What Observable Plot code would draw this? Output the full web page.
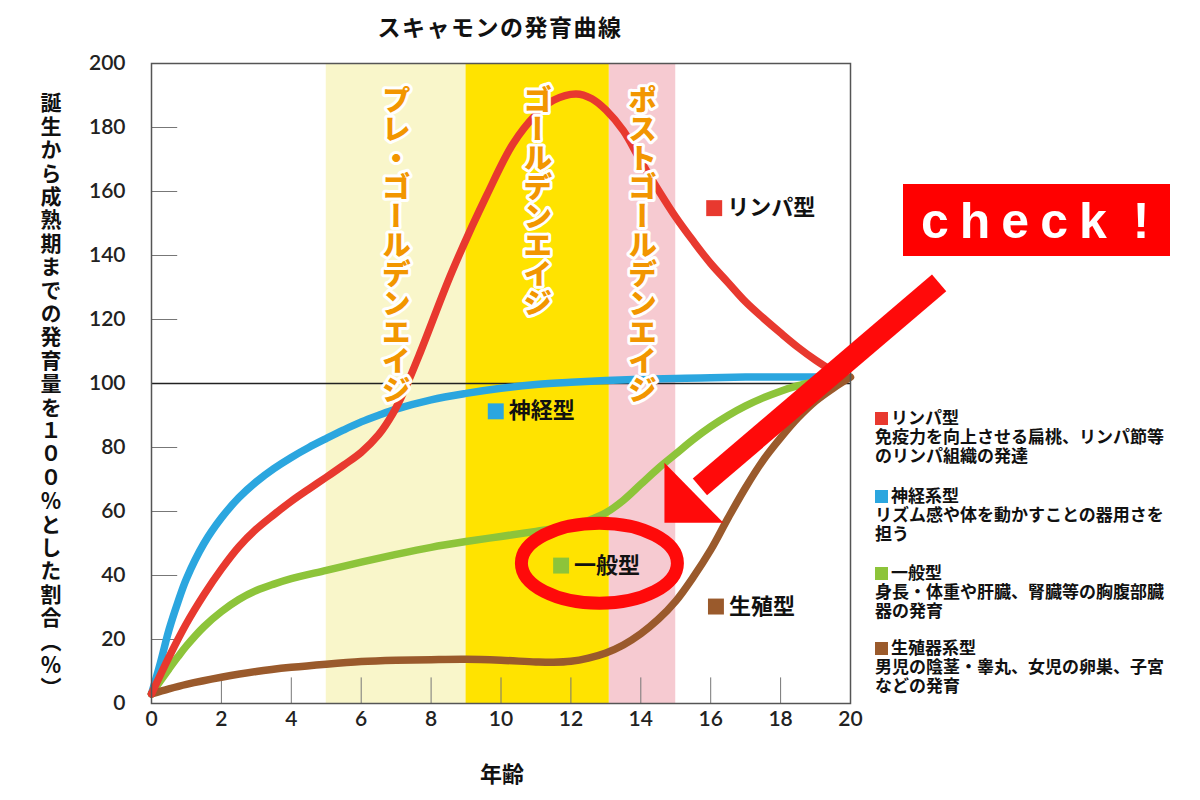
<!DOCTYPE html>
<html><head><meta charset="utf-8">
<script src="https://cdn.jsdelivr.net/npm/d3@7"></script>
<script src="https://cdn.jsdelivr.net/npm/@observablehq/plot@0.6"></script>
<style>
body{margin:0;background:#fff;}
#wrap{position:relative;width:1200px;height:800px;overflow:hidden;font-family:"Noto Sans CJK JP",sans-serif;}
.abs{position:absolute;white-space:nowrap;}
.sq{display:inline-block;width:13px;height:13px;margin-right:3px;vertical-align:-1px;}
</style></head><body><div id="wrap"></div>
<script>
// ---- text ----
const titleText = "スキャモンの発育曲線";
const yLabelText = "誕生から成熟期までの発育量を１００％とした割合（％）";
const xLabelText = "年齢";
const checkText = "check !";

// ---- axes ----
const xTicks = [0, 2, 4, 6, 8, 10, 12, 14, 16, 18, 20];
const yTicks = [0, 20, 40, 60, 80, 100, 120, 140, 160, 180, 200];

// ---- age bands ----
const bandNames = ["プレ・ゴールデンエイジ", "ゴールデンエイジ", "ポストゴールデンエイジ"];
const bandStart = [5, 9, 13.1];
const bandEnd = [9, 13.1, 15];
const bandColors = ["#F9F6CA", "#FFE300", "#F6CAD1"];

// ---- series ----
const seriesNames = ["リンパ型", "神経型", "一般型", "生殖型"];
const seriesColors = ["#E8392F", "#2BA6DF", "#8DC43A", "#9A5A2C"];

const lymphAge = [0, 0.5, 1, 1.5, 2, 2.5, 3, 3.5, 4, 4.5, 5, 5.5, 6, 6.5, 6.9, 7.2, 7.7, 8.6, 9.6, 10.35, 11, 11.5, 12.15, 12.6, 13, 13.5, 14, 14.5, 15, 15.5, 16, 16.5, 17, 17.5, 18, 18.5, 19, 19.5, 19.7];
const lymphVal = [3, 14.5, 25, 34, 42, 49, 54.5, 59, 63.2, 67, 70.7, 74.5, 78.5, 84, 90.5, 97, 110, 135, 159, 175, 184, 188.5, 190.5, 189, 185.5, 179, 169.5, 160.5, 152, 144.5, 137.5, 131.5, 125.5, 120.5, 115.8, 111.3, 107.3, 103.8, 102.5];

const neuralAge = [0, 0.25, 0.5, 0.75, 1, 1.5, 2, 2.5, 3, 3.5, 4, 4.5, 5, 5.5, 6, 6.5, 7, 8, 9, 10, 11, 12, 13, 14, 15, 16, 17, 18, 19.3];
const neuralVal = [3, 12.5, 23, 31.5, 39, 50, 58, 64.3, 69.3, 73.4, 76.9, 80, 82.8, 85.5, 88, 90.1, 92, 94.9, 96.9, 98.5, 99.7, 100.4, 100.9, 101.3, 101.6, 101.8, 102, 102, 102];

const generalAge = [0, 0.25, 0.5, 0.75, 1, 1.5, 2, 2.5, 3, 3.5, 4, 5, 6, 7, 8, 9, 10, 11, 12, 12.5, 13, 13.5, 14, 14.5, 15, 15.5, 16, 16.5, 17, 17.5, 18, 18.5, 19, 19.5];
const generalVal = [3, 7, 10.8, 14.5, 18, 24, 28.7, 32.5, 35.3, 37.3, 39, 41.6, 44.2, 46.6, 48.8, 50.6, 52.2, 53.8, 55.6, 57.2, 59.6, 63.5, 68.5, 73.5, 78, 82.5, 86.5, 90, 93, 95.5, 97.6, 99.3, 100.6, 101.8];

const reproAge = [0, 0.5, 1, 2, 3, 4, 5, 6, 7, 8, 9, 10, 11, 11.5, 12, 12.5, 13, 13.5, 14, 14.5, 15, 15.5, 16, 16.5, 17, 17.5, 18, 18.5, 19, 19.5, 20];
const reproVal = [3, 4.6, 6, 8.2, 10, 11.3, 12.3, 13.1, 13.5, 13.7, 13.8, 13.5, 13.0, 12.9, 13.2, 14.2, 15.8, 18.3, 21.8, 26.3, 32, 39.5, 48, 58, 67.5, 76, 83, 89.3, 94.5, 98.5, 102];

// in-chart series labels (anchor in data units)
const labelAge = [16.1, 9.85, 11.72, 16.15];
const labelVal = [154.8, 91.3, 43.1, 30.3];

// ---- legend (right side) ----
const legendTitles = ["リンパ型", "神経系型", "一般型", "生殖器系型"];
const legendLines = [
  ["免疫力を向上させる扁桃、リンパ節等", "のリンパ組織の発達"],
  ["リズム感や体を動かすことの器用さを", "担う"],
  ["身長・体重や肝臓、腎臓等の胸腹部臓", "器の発育"],
  ["男児の陰茎・睾丸、女児の卵巣、子宮", "などの発育"]
];

// ---- build ----
const seriesAges = [lymphAge, neuralAge, generalAge, reproAge];
const seriesVals = [lymphVal, neuralVal, generalVal, reproVal];
const pts = i => seriesAges[i].map((a, j) => ({age: a, value: seriesVals[i][j]}));
const drawOrder = [1, 2, 3, 0];

const cjk = "'Noto Sans CJK JP', sans-serif";

const marks = [];
bandNames.forEach((n, i) => {
  marks.push(Plot.rect([{x1: bandStart[i], x2: bandEnd[i]}], {x1: "x1", x2: "x2", y1: 0, y2: 200, fill: bandColors[i]}));
});
marks.push(Plot.ruleX(xTicks.filter(t => t > 0 && t < 20), {y1: 0, y2: 8, stroke: "#777", strokeWidth: 1}));
marks.push(Plot.ruleY(yTicks.filter(t => t > 0 && t < 200 && t !== 100), {x1: 0, x2: 0.75, stroke: "#777", strokeWidth: 1}));
marks.push(Plot.ruleY([100], {stroke: "#222", strokeWidth: 1.3}));
drawOrder.forEach(i => {
  marks.push(Plot.line(pts(i), {x: "age", y: "value", stroke: seriesColors[i], strokeWidth: 7.5, curve: "catmull-rom", strokeLinecap: "round"}));
});
marks.push(Plot.text(bandNames.map((n, i) => ({name: n, mid: (bandStart[i] + bandEnd[i]) / 2})), {
  x: "mid", y: 193, text: "name", textAnchor: "start", lineAnchor: "bottom",
  fontSize: 29, fontWeight: 900, fontFamily: cjk, fill: "#F29600",
  stroke: "white", strokeWidth: 6, strokeLinejoin: "round", paintOrder: "stroke"
}));
const labelData = seriesNames.map((n, i) => ({name: n, age: labelAge[i], value: labelVal[i], color: seriesColors[i]}));
seriesNames.forEach((n, i) => {
  marks.push(Plot.dot([labelData[i]], {x: "age", y: "value", symbol: "square", r: 9, fill: seriesColors[i], stroke: "none"}));
});
marks.push(Plot.text(labelData, {x: "age", y: "value", text: "name", dx: 13, textAnchor: "start", fontSize: 22, fontWeight: 700, fontFamily: cjk, fill: "#111"}));
marks.push(Plot.frame({stroke: "#555", strokeWidth: 1.5}));

const plot = Plot.plot({
  width: 1200, height: 800,
  marginLeft: 151, marginRight: 350, marginTop: 63, marginBottom: 97,
  style: {fontFamily: "Lato, sans-serif", fontSize: "21px", fontWeight: 600, color: "#222", background: "transparent", overflow: "visible"},
  x: {domain: [0, 20], ticks: xTicks, tickSize: 0, tickPadding: 8, label: null},
  y: {domain: [0, 200], ticks: yTicks, tickSize: 0, tickPadding: 26, label: null},
  marks
});

const wrap = document.getElementById("wrap");
wrap.appendChild(plot);
plot.style.position = "absolute"; plot.style.left = "0"; plot.style.top = "0";

const svg = d3.select(plot);
svg.selectAll("text").filter(function () { return bandNames.includes(this.textContent); })
  .style("writing-mode", "vertical-rl");

const sx = plot.scale("x"), sy = plot.scale("y");
const X = v => sx.apply(v), Y = v => sy.apply(v);

// highlight ellipse around 一般型
const ell = {age: 12.83, value: 43.7};
svg.append("ellipse").attr("cx", X(ell.age)).attr("cy", Y(ell.value)).attr("rx", 78).attr("ry", 40)
  .attr("fill", "none").attr("stroke", "#FF0A0A").attr("stroke-width", 13);

// big arrow
const tip = {age: 14.69, value: 56.3};
const tail = {age: 22.55, value: 131.3};
const tx = X(tip.age), ty = Y(tip.value);
const ax = X(tail.age), ay = Y(tail.value);
const A = [tx, ty - 60], B = [tx + 59, ty];
const mid = [(A[0] + B[0]) / 2, (A[1] + B[1]) / 2];
svg.append("line").attr("x1", ax).attr("y1", ay).attr("x2", mid[0] + 6).attr("y2", mid[1] - 6)
  .attr("stroke", "#FF0A0A").attr("stroke-width", 22);
svg.append("path").attr("d", `M${tx},${ty}L${A[0]},${A[1]}L${B[0]},${B[1]}Z`).attr("fill", "#FF0A0A");

// check! box
svg.append("rect").attr("x", 903).attr("y", 184).attr("width", 267).attr("height", 72).attr("fill", "#FF0000");
svg.append("text").attr("x", 921).attr("y", 238).attr("text-anchor", "start").text(checkText)
  .attr("fill", "white").attr("font-family", "'Liberation Sans', Arial, sans-serif").attr("font-weight", 700)
  .attr("font-size", 50).style("letter-spacing", "11px").style("word-spacing", "-10px");

// HTML text: title, axis labels, legend
function addDiv(text, css) {
  const d = document.createElement("div");
  d.className = "abs"; d.textContent = text; Object.assign(d.style, css); wrap.appendChild(d); return d;
}
addDiv(titleText, {left: "0", width: "1000px", textAlign: "center", top: "9px", fontSize: "23px", fontWeight: "700", letterSpacing: "1.5px", color: "#111"});
addDiv(xLabelText, {left: "0", width: "1004px", textAlign: "center", top: "756px", fontSize: "22px", fontWeight: "700", color: "#111"});
addDiv(yLabelText, {left: "40px", top: "92px", writingMode: "vertical-rl", fontSize: "21px", lineHeight: "22px", fontWeight: "700", letterSpacing: "2.4px", color: "#111"});

const legendTops = [407, 485, 562, 637];
legendTitles.forEach((t, i) => {
  const g = document.createElement("div");
  g.className = "abs";
  Object.assign(g.style, {left: "875px", top: legendTops[i] + "px", fontSize: "17px", lineHeight: "19px", fontWeight: "700", color: "#111"});
  const head = document.createElement("div");
  const sq = document.createElement("span"); sq.className = "sq"; sq.style.background = seriesColors[i];
  head.appendChild(sq); head.appendChild(document.createTextNode(t));
  g.appendChild(head);
  legendLines[i].forEach(l => { const d = document.createElement("div"); d.textContent = l; g.appendChild(d); });
  wrap.appendChild(g);
});
</script></body></html>
